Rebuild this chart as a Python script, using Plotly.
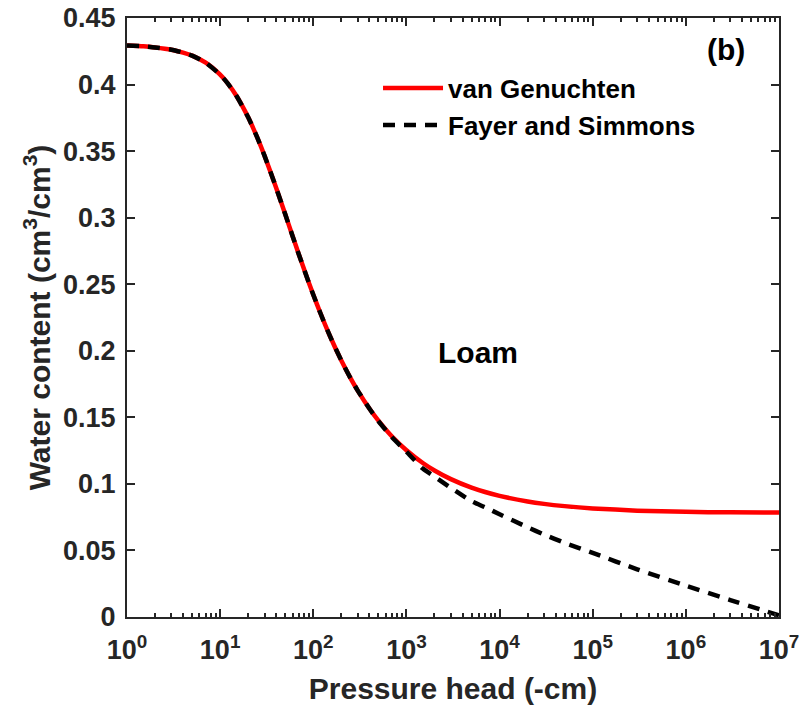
import plotly.graph_objects as go

# Pressure head (-cm) and water content
h_vg = [1, 1.5, 2, 3, 4, 5, 7, 10, 12, 15, 20, 25, 30, 40, 50, 60, 70, 85, 100, 120, 150,
        200, 250, 300, 400, 500, 700, 1000, 1500, 2000, 3000, 5000, 7000, 1e4, 2e4, 3e4,
        5e4, 1e5, 3e5, 1e6, 3e6, 1e7]
theta_vg = [0.4293, 0.4287, 0.4279, 0.4262, 0.4240, 0.4217, 0.4164, 0.4074, 0.4011, 0.3914,
            0.3754, 0.3603, 0.3464, 0.3223, 0.3025, 0.2861, 0.2724, 0.2556, 0.2421, 0.2278,
            0.2115, 0.1927, 0.1797, 0.1701, 0.1566, 0.1475, 0.1356, 0.1253, 0.1157, 0.1101,
            0.1036, 0.0972, 0.0939, 0.0910, 0.0868, 0.0850, 0.0833, 0.0816, 0.0799, 0.0790,
            0.0786, 0.0785]

h_fs = [1, 1.5, 2, 3, 4, 5, 7, 10, 12, 15, 20, 25, 30, 40, 50, 60, 70, 85, 100, 120, 150,
        200, 250, 300, 400, 500, 700, 1000, 1500, 2000, 3000, 5000, 7000, 1e4, 2e4, 3e4,
        5e4, 1e5, 3e5, 1e6, 3e6, 1e7]
theta_fs = [0.4293, 0.4287, 0.4279, 0.4262, 0.4240, 0.4217, 0.4164, 0.4074, 0.4011, 0.3914,
            0.3754, 0.3603, 0.3464, 0.3223, 0.3025, 0.2861, 0.2724, 0.2556, 0.2421, 0.2278,
            0.2115, 0.1927, 0.1797, 0.1701, 0.1566, 0.1472, 0.1350, 0.1242, 0.1115, 0.1055,
            0.0970, 0.0870, 0.0824, 0.0772, 0.0674, 0.0619, 0.0557, 0.0482, 0.0358, 0.0235,
            0.0127, 0.0013]

x_tickvals = [1, 10, 100, 1000, 1e4, 1e5, 1e6, 1e7]
x_ticktext = ["10<sup>%d</sup>" % k for k in range(8)]
x_minor = [m * 10 ** k for k in range(7) for m in range(2, 10)]
y_tickvals = [0, 0.05, 0.1, 0.15, 0.2, 0.25, 0.3, 0.35, 0.4, 0.45]
y_ticktext = ["0", "0.05", "0.1", "0.15", "0.2", "0.25", "0.3", "0.35", "0.4", "0.45"]

AX = "#262626"
FONT = "Arial, Liberation Sans, sans-serif"

fig = go.Figure()
fig.add_trace(go.Scatter(x=h_vg, y=theta_vg, mode="lines", name="van Genuchten",
                         line=dict(color="#ff0000", width=4.5, shape="spline", smoothing=0.6)))
fig.add_trace(go.Scatter(x=h_fs, y=theta_fs, mode="lines", name="Fayer and Simmons",
                         line=dict(color="#000000", width=4.5, dash="12px,9px",
                                   shape="spline", smoothing=0.6)))

fig.update_layout(
    width=809, height=709,
    margin=dict(l=127, r=30, t=18, b=92, autoexpand=False),
    paper_bgcolor="white", plot_bgcolor="white",
    font=dict(family=FONT, color=AX, weight="bold"),
    showlegend=True,
    legend=dict(x=0.385, y=0.922, xanchor="left", yanchor="top",
                bgcolor="rgba(0,0,0,0)", borderwidth=0,
                font=dict(size=26, color="black", family=FONT, weight="bold"),
                itemwidth=60, tracegroupgap=0),
    xaxis=dict(type="log", range=[0, 7], tickmode="array", tickvals=x_tickvals,
               ticktext=x_ticktext, ticks="inside", ticklen=8, tickwidth=1.5,
               tickcolor=AX, showline=True, linecolor=AX, linewidth=2, mirror="ticks",
               showgrid=False, zeroline=False, ticklabelstandoff=8, automargin=False,
               tickfont=dict(size=27, color=AX, family=FONT, weight="bold"),
               minor=dict(tickmode="array", tickvals=x_minor, ticks="inside", ticklen=4,
                          tickwidth=1.5, tickcolor=AX, showgrid=False),
               title=dict(text="Pressure head (-cm)", standoff=14,
                          font=dict(size=30, color=AX, family=FONT, weight="bold"))),
    yaxis=dict(range=[0, 0.45], tickmode="array", tickvals=y_tickvals, ticktext=y_ticktext,
               ticks="inside", ticklen=8, tickwidth=1.5, tickcolor=AX,
               showline=True, linecolor=AX, linewidth=2, mirror="ticks",
               showgrid=False, zeroline=False, ticklabelstandoff=4, automargin=False,
               tickfont=dict(size=27, color=AX, family=FONT, weight="bold"),
               title=dict(text="Water content (cm<sup>3</sup>/cm<sup>3</sup>)", standoff=4,
                          font=dict(size=30, color=AX, family=FONT, weight="bold"))),
    annotations=[
        dict(text="(b)", x=0.919, y=0.947, xref="paper", yref="paper", showarrow=False,
             xanchor="center", yanchor="middle",
             font=dict(size=30, color="black", family=FONT, weight="bold")),
        dict(text="Loam", x=0.538, y=0.442, xref="paper", yref="paper", showarrow=False,
             xanchor="center", yanchor="middle",
             font=dict(size=30, color="black", family=FONT, weight="bold")),
    ],
)

fig.write_html("out.html")
